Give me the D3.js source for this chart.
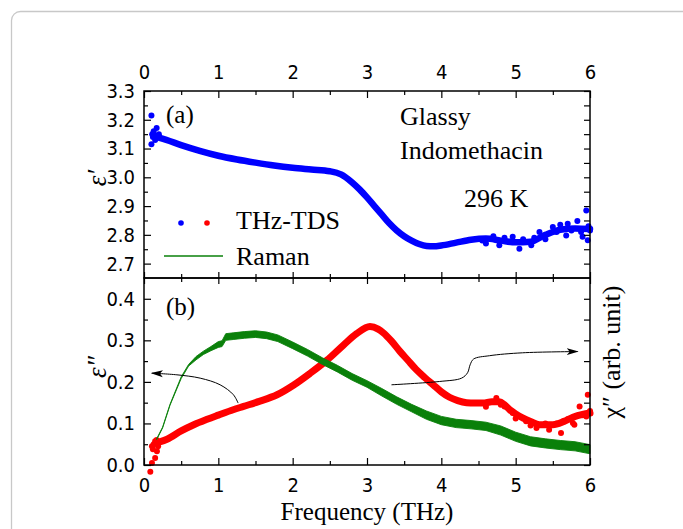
<!DOCTYPE html>
<html>
<head>
<meta charset="utf-8">
<script src="https://cdn.jsdelivr.net/npm/d3@7"></script>
<style>
  body { margin: 0; background: #fff; }
  .tick text { font-family: "Liberation Sans Narrow", "Arial Narrow", "DejaVu Sans Condensed", sans-serif; font-size: 20px; fill: #000; }
  .tick line { stroke: #000; stroke-width: 1.2; }
  .serif { font-family: "Liberation Serif", "Times New Roman", serif; fill: #000; }
</style>
</head>
<body>
<script>
const width = 683;
const height = 529;
const LEFT = 144, RIGHT = 590, TOP = 91, MID = 278, BOTTOM = 465;

// tick values
const xTicks = [0, 1, 2, 3, 4, 5, 6];
const xMinor = [0.5, 1.5, 2.5, 3.5, 4.5, 5.5];
const e1Ticks = [2.7, 2.8, 2.9, 3.0, 3.1, 3.2, 3.3];
const e1Minor = [2.75, 2.85, 2.95, 3.05, 3.15, 3.25];
const e2Ticks = [0.0, 0.1, 0.2, 0.3, 0.4];
const e2Minor = [0.05, 0.15, 0.25, 0.35];

// THz-TDS epsilon' (main band)
const e1Freq = [0.2, 0.3, 0.5, 0.75, 1.0, 1.25, 1.5, 1.75, 2.0, 2.25, 2.5, 2.65, 2.8, 2.9, 3.0, 3.1, 3.2, 3.3, 3.4, 3.5, 3.6, 3.7, 3.8, 3.9, 4.0, 4.2, 4.4, 4.6, 4.8, 5.0, 5.2, 5.4, 5.6, 5.8, 6.0];
const e1Val = [3.138, 3.13, 3.112, 3.092, 3.075, 3.062, 3.051, 3.041, 3.033, 3.027, 3.021, 3.01, 2.982, 2.958, 2.93, 2.90, 2.87, 2.84, 2.815, 2.795, 2.78, 2.768, 2.761, 2.76, 2.763, 2.773, 2.783, 2.787, 2.78, 2.774, 2.776, 2.80, 2.818, 2.822, 2.82];
// epsilon' scattered points
const e1ScFreq = [0.10, 0.10, 0.11, 0.12, 0.13, 0.14, 0.15, 0.17, 0.18, 0.2, 4.55, 4.6, 4.7, 4.78, 4.85, 4.96, 5.05, 5.1, 5.21, 5.25, 5.32, 5.4, 5.5, 5.55, 5.6, 5.68, 5.7, 5.75, 5.83, 5.88, 5.9, 5.95, 5.97, 5.98, 6.0];
const e1ScVal = [3.215, 3.115, 3.15, 3.14, 3.16, 3.145, 3.13, 3.171, 3.14, 3.15, 2.78, 2.77, 2.795, 2.764, 2.79, 2.793, 2.752, 2.785, 2.764, 2.79, 2.81, 2.785, 2.827, 2.81, 2.835, 2.798, 2.839, 2.815, 2.848, 2.81, 2.793, 2.885, 2.781, 2.83, 2.815];

// THz-TDS epsilon'' (main band)
const e2Freq = [0.2, 0.31, 0.5, 0.67, 0.85, 1.0, 1.2, 1.34, 1.55, 1.79, 2.01, 2.23, 2.46, 2.68, 2.86, 3.04, 3.15, 3.22, 3.33, 3.44, 3.55, 3.66, 3.78, 3.89, 4.0, 4.11, 4.22, 4.34, 4.45, 4.56, 4.68, 4.78, 4.85, 4.92, 5.0, 5.1, 5.2, 5.32, 5.5, 5.65, 5.77, 5.9, 6.0];
const e2Val = [0.055, 0.062, 0.082, 0.097, 0.11, 0.12, 0.133, 0.141, 0.153, 0.169, 0.192, 0.22, 0.252, 0.288, 0.316, 0.333, 0.327, 0.318, 0.298, 0.274, 0.252, 0.23, 0.21, 0.193, 0.176, 0.163, 0.155, 0.15, 0.149, 0.149, 0.152, 0.152, 0.145, 0.133, 0.123, 0.113, 0.105, 0.097, 0.097, 0.105, 0.115, 0.122, 0.125];
// epsilon'' scattered points
const e2ScFreq = [0.085, 0.107, 0.15, 0.174, 0.107, 0.13, 0.15, 0.17, 0.19, 0.12, 4.6, 4.74, 4.8, 4.85, 4.96, 5.0, 5.14, 5.2, 5.28, 5.4, 5.45, 5.55, 5.61, 5.7, 5.77, 5.79, 5.86, 5.9, 5.95, 5.97, 6.0];
const e2ScVal = [-0.016, 0.005, 0.017, 0.033, 0.045, 0.05, 0.057, 0.06, 0.045, 0.038, 0.14, 0.161, 0.145, 0.141, 0.125, 0.112, 0.105, 0.095, 0.089, 0.1, 0.085, 0.1, 0.077, 0.11, 0.101, 0.097, 0.141, 0.12, 0.117, 0.169, 0.13];

// Raman chi'' (noise envelope, arb. unit)
const ramanFreq = [0.17, 0.25, 0.35, 0.5, 0.6, 0.7, 0.8, 0.9, 1.0, 1.05, 1.1, 1.2, 1.35, 1.5, 1.65, 1.8, 2.0, 2.2, 2.4, 2.6, 2.8, 3.0, 3.2, 3.4, 3.6, 3.8, 4.0, 4.2, 4.4, 4.6, 4.8, 5.0, 5.2, 5.4, 5.6, 5.8, 6.0];
const ramanLo = [0.061, 0.089, 0.144, 0.208, 0.238, 0.253, 0.266, 0.275, 0.283, 0.285, 0.300, 0.302, 0.305, 0.307, 0.304, 0.297, 0.280, 0.262, 0.242, 0.224, 0.204, 0.187, 0.166, 0.146, 0.128, 0.110, 0.097, 0.090, 0.087, 0.083, 0.072, 0.057, 0.046, 0.041, 0.037, 0.034, 0.027];
const ramanHi = [0.063, 0.091, 0.146, 0.212, 0.242, 0.261, 0.274, 0.285, 0.297, 0.299, 0.316, 0.318, 0.321, 0.323, 0.320, 0.313, 0.296, 0.278, 0.258, 0.240, 0.220, 0.203, 0.184, 0.164, 0.146, 0.130, 0.117, 0.110, 0.107, 0.103, 0.094, 0.079, 0.068, 0.063, 0.059, 0.056, 0.049];

// annotation arrows (freq, epsilon'')
const arrowLF = [1.266, 1.203, 1.024, 0.756, 0.443, 0.107];
const arrowLV = [0.149, 0.169, 0.193, 0.209, 0.217, 0.221];
const arrowRF = [3.329, 3.977, 4.272, 4.353, 4.387, 4.434, 4.648, 5.091, 5.834];
const arrowRV = [0.193, 0.201, 0.209, 0.222, 0.241, 0.255, 0.263, 0.270, 0.273];

const BLUE = "#0000ff", RED = "#ff0000", GREEN = "#0a800a";

// scales
var xScale = d3.scaleLinear().domain([0, 6]).range([LEFT, RIGHT]);
var yTop = d3.scaleLinear().domain([2.65, 3.3]).range([MID, TOP]);
var yBot = d3.scaleLinear().domain([0, 0.45]).range([BOTTOM, MID]);
var yRaman = d3.scaleLinear().domain([0, 0.45]).range([BOTTOM, MID]);

var svg = d3.select("body").append("svg")
    .attr("width", width)
    .attr("height", height);

// outer frame
svg.append("rect")
    .attr("x", 11.5).attr("y", 11.5)
    .attr("width", 720).attr("height", 600)
    .attr("rx", 9)
    .attr("fill", "none")
    .attr("stroke", "#c8c8c8")
    .attr("stroke-width", 1.3);

// data
var zipped = (fs, vs) => fs.map((f, i) => [f, vs[i]]);

var band1 = d3.line().x(d => xScale(d[0])).y(d => yTop(d[1])).curve(d3.curveMonotoneX);
var band2 = d3.line().x(d => xScale(d[0])).y(d => yBot(d[1])).curve(d3.curveMonotoneX);

svg.append("path")
    .attr("d", band1(zipped(e1Freq, e1Val)))
    .attr("fill", "none").attr("stroke", BLUE)
    .attr("stroke-width", 6.5).attr("stroke-linecap", "round").attr("stroke-linejoin", "round");

svg.append("g").selectAll("circle")
    .data(zipped(e1ScFreq, e1ScVal))
    .join("circle")
    .attr("cx", d => xScale(d[0]))
    .attr("cy", d => yTop(d[1]))
    .attr("r", 3)
    .attr("fill", BLUE);

svg.append("path")
    .attr("d", band2(zipped(e2Freq, e2Val)))
    .attr("fill", "none").attr("stroke", RED)
    .attr("stroke-width", 7).attr("stroke-linecap", "round").attr("stroke-linejoin", "round");

svg.append("g").selectAll("circle")
    .data(zipped(e2ScFreq, e2ScVal))
    .join("circle")
    .attr("cx", d => xScale(d[0]))
    .attr("cy", d => yBot(d[1]))
    .attr("r", 3)
    .attr("fill", RED);

var ramanArea = d3.area()
    .x((d, i) => xScale(ramanFreq[i]))
    .y0((d, i) => yRaman(ramanLo[i]))
    .y1((d, i) => yRaman(ramanHi[i]));

svg.append("path")
    .attr("d", ramanArea(ramanFreq))
    .attr("fill", GREEN)
    .attr("stroke", GREEN)
    .attr("stroke-width", 0.9);

// arrows
svg.append("defs").append("marker")
    .attr("id", "head")
    .attr("viewBox", "0 -5 12 10")
    .attr("refX", 11).attr("refY", 0)
    .attr("markerWidth", 12).attr("markerHeight", 10)
    .attr("markerUnits", "userSpaceOnUse")
    .attr("orient", "auto")
  .append("path")
    .attr("d", "M0,-3.5L12,0L0,3.5L3,0Z")
    .attr("fill", "#000");

var arrowLine = d3.line().x(d => xScale(d[0])).y(d => yBot(d[1])).curve(d3.curveCatmullRom);
[zipped(arrowLF, arrowLV), zipped(arrowRF, arrowRV)].forEach(function(pts) {
    svg.append("path")
        .attr("d", arrowLine(pts))
        .attr("fill", "none")
        .attr("stroke", "#000")
        .attr("stroke-width", 1)
        .attr("marker-end", "url(#head)");
});

// axes: major + minor, ticks inward
function ticks(axis, vals, size, labels) {
    return axis.tickValues(vals).tickSize(-size).tickSizeOuter(0)
        .tickFormat(labels ? labels : "");
}
var f1 = d3.format(".1f");

var g = svg.append("g");
// top edge
g.append("g").attr("transform", `translate(0,${TOP})`).call(ticks(d3.axisTop(xScale), xTicks, 7, d3.format("d")).tickPadding(12));
g.append("g").attr("transform", `translate(0,${TOP})`).call(ticks(d3.axisTop(xScale), xMinor, 4));
// middle edge, ticks both ways
g.append("g").attr("transform", `translate(0,${MID})`).call(ticks(d3.axisBottom(xScale), xTicks, 6));
g.append("g").attr("transform", `translate(0,${MID})`).call(ticks(d3.axisBottom(xScale), xMinor, 4));
g.append("g").attr("transform", `translate(0,${MID})`).call(ticks(d3.axisTop(xScale), xTicks, 6));
g.append("g").attr("transform", `translate(0,${MID})`).call(ticks(d3.axisTop(xScale), xMinor, 4));
// bottom edge
g.append("g").attr("transform", `translate(0,${BOTTOM})`).call(ticks(d3.axisBottom(xScale), xTicks, 7, d3.format("d")).tickPadding(13));
g.append("g").attr("transform", `translate(0,${BOTTOM})`).call(ticks(d3.axisBottom(xScale), xMinor, 4));
// left
g.append("g").attr("transform", `translate(${LEFT},0)`).call(ticks(d3.axisLeft(yTop), e1Ticks, 7, f1).tickPadding(9));
g.append("g").attr("transform", `translate(${LEFT},0)`).call(ticks(d3.axisLeft(yTop), e1Minor, 4));
g.append("g").attr("transform", `translate(${LEFT},0)`).call(ticks(d3.axisLeft(yBot), e2Ticks, 7, f1).tickPadding(9));
g.append("g").attr("transform", `translate(${LEFT},0)`).call(ticks(d3.axisLeft(yBot), e2Minor, 4));
// right
g.append("g").attr("transform", `translate(${RIGHT},0)`).call(ticks(d3.axisRight(yTop), e1Ticks.concat(e1Minor), 6));
g.append("g").attr("transform", `translate(${RIGHT},0)`).call(ticks(d3.axisRight(yRaman), e2Ticks.concat(e2Minor), 6));
g.selectAll(".domain").remove();

// panel frames
[[TOP, MID], [MID, BOTTOM]].forEach(function(p) {
    svg.append("rect")
        .attr("x", LEFT).attr("y", p[0])
        .attr("width", RIGHT - LEFT).attr("height", p[1] - p[0])
        .attr("fill", "none").attr("stroke", "#000").attr("stroke-width", 1.5);
});

// texts
function label(x, y, txt, size, rot, italic) {
    var t = svg.append("text")
        .attr("class", "serif")
        .attr("font-size", size + "px")
        .attr("text-anchor", rot ? "middle" : "start")
        .text(txt);
    if (italic) t.attr("font-style", "italic");
    if (rot) t.attr("transform", `translate(${x},${y}) rotate(-90)`);
    else t.attr("x", x).attr("y", y);
    return t;
}
label(166, 123, "(a)", 25);
label(166, 315, "(b)", 25);
label(400, 125, "Glassy", 26);
label(400, 159, "Indomethacin", 26);
label(464, 207, "296 K", 26);
label(236, 229, "THz-TDS", 26);
label(236, 265, "Raman", 26);
label(106, 178, "\u03B5\u2032", 27, true, true);
label(106, 367, "\u03B5\u2033", 27, true, true);
label(620, 352, "\u03C7\u2033 (arb. unit)", 26, true);
svg.append("text")
    .attr("class", "serif")
    .attr("x", (LEFT + RIGHT) / 2).attr("y", 520)
    .attr("text-anchor", "middle")
    .attr("font-size", "25px")
    .text("Frequency (THz)");

// legend symbols
svg.append("circle").attr("cx", 181).attr("cy", 223).attr("r", 2.8).attr("fill", BLUE);
svg.append("circle").attr("cx", 207).attr("cy", 223).attr("r", 2.8).attr("fill", RED);
svg.append("line").attr("x1", 164).attr("x2", 223).attr("y1", 256).attr("y2", 256)
    .attr("stroke", GREEN).attr("stroke-width", 1.5);
</script>
</body>
</html>
